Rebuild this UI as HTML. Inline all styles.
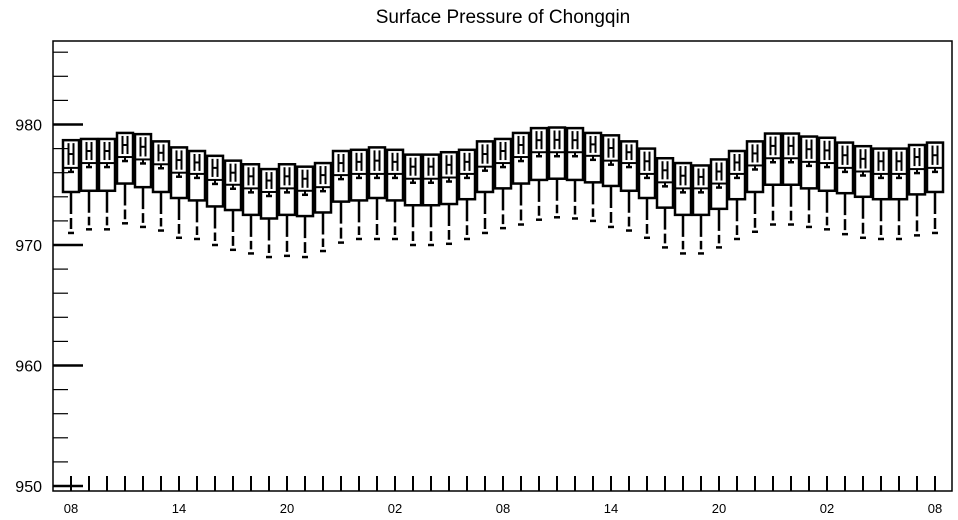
<!DOCTYPE html>
<html><head><meta charset="utf-8"><style>
body{margin:0;background:#fff;}
svg{display:block;font-family:"Liberation Sans",sans-serif;}
</style></head><body>
<svg id="chart" width="958" height="520">
<text x="503" y="23" text-anchor="middle" font-size="19">Surface Pressure of Chongqin</text>
<rect x="53" y="41" width="899" height="450" fill="none" stroke="#000" stroke-width="1.5"/>
<g id="axes"></g>
<g id="boxes"></g>
</svg>
<script>
const q3=[978.7,978.8,978.8,979.3,979.2,978.6,978.1,977.8,977.4,977.0,976.7,976.3,976.7,976.5,976.8,977.8,977.9,978.1,977.9,977.5,977.5,977.7,977.9,978.6,978.8,979.3,979.7,979.75,979.7,979.3,979.1,978.6,978.0,977.2,976.8,976.6,977.1,977.8,978.6,979.25,979.25,979.0,978.9,978.5,978.2,978.0,978.0,978.3,978.5];
const q1=[974.4,974.5,974.5,975.1,974.8,974.4,973.9,973.7,973.2,972.9,972.5,972.2,972.5,972.4,972.7,973.6,973.7,973.9,973.7,973.3,973.3,973.4,973.8,974.4,974.7,975.1,975.4,975.5,975.4,975.2,974.9,974.5,973.9,973.1,972.5,972.5,973.0,973.8,974.4,975.0,975.0,974.7,974.5,974.3,974.0,973.8,973.8,974.2,974.4];
const med=[976.4,976.8,976.8,977.3,977.1,976.7,976.0,975.9,975.4,975.0,974.7,974.4,974.7,974.5,974.8,975.8,975.9,975.9,975.9,975.5,975.5,975.6,975.9,976.5,976.8,977.3,977.7,977.7,977.7,977.4,977.0,976.8,975.9,975.2,974.7,974.7,975.1,975.9,976.6,977.2,977.2,976.9,976.8,976.4,976.1,975.9,975.9,976.3,976.4];
const mins=[971.0,971.3,971.3,971.8,971.5,971.2,970.6,970.5,970.0,969.6,969.3,969.0,969.1,969.0,969.5,970.2,970.5,970.5,970.5,970.0,970.0,970.1,970.5,971.0,971.4,971.7,972.1,972.3,972.2,972.0,971.5,971.2,970.6,969.8,969.3,969.3,969.8,970.5,971.1,971.7,971.7,971.5,971.3,970.9,970.6,970.5,970.5,970.8,971.0];
const yTicks=[950,960,970,980];
const xLabels=["08","14","20","02","08","14","20","02","08"];
const NS="http://www.w3.org/2000/svg";
const y=v=>486-(v-950)*12.05;
const x=i=>71+i*18;
function mk(tag,attrs,parent){const e=document.createElementNS(NS,tag);for(const k in attrs)e.setAttribute(k,attrs[k]);parent.appendChild(e);return e;}
const axes=document.getElementById('axes');
for(let v=950;v<=986;v+=2){
  const major=yTicks.includes(v);
  const t=mk('line',{x1:53,x2:major?83:68,y1:y(v),y2:y(v),stroke:'#000','stroke-width':major?2.5:1.2},axes);
  
  
}
yTicks.forEach(v=>{
  const t=mk('text',{x:42,y:y(v)+6,'text-anchor':'end','font-size':16},axes);
  t.textContent=v;
  
  
});
for(let i=0;i<q3.length;i++){
  const t=mk('line',{x1:x(i),x2:x(i),y1:491,y2:476,stroke:'#000','stroke-width':2},axes);
  
  
}
xLabels.forEach((s,j)=>{
  const t=mk('text',{x:x(j*6),y:513,'text-anchor':'middle','font-size':13},axes);
  t.textContent=s;
  
  
});
const boxes=document.getElementById('boxes');
for(let i=0;i<q3.length;i++){
  const g=mk('g',{stroke:'#000',fill:'none'},boxes);
  
  
  const cx=x(i),yt=y(q3[i]),yb=y(q1[i]),ym=y(med[i]),yn=y(mins[i]);
  mk('rect',{x:cx-8,y:yt,width:16,height:yb-yt,'stroke-width':2.5},g);
  mk('line',{x1:cx-8,x2:cx+8,y1:ym,y2:ym,'stroke-width':2},g);
  // H mark
  const ht=yt+3,hb=ym-3,hm=(ht+hb)/2;
  mk('line',{x1:cx-2.5,x2:cx-2.5,y1:ht,y2:hb,'stroke-width':2},g);
  mk('line',{x1:cx+2.5,x2:cx+2.5,y1:ht,y2:hb,'stroke-width':2},g);
  mk('line',{x1:cx-2.5,x2:cx+2.5,y1:hm,y2:hm,'stroke-width':2},g);
  // mean marker
  mk('line',{x1:cx,x2:cx,y1:ym,y2:ym+4,'stroke-width':2},g);
  mk('line',{x1:cx-3,x2:cx+3,y1:ym+4,y2:ym+4,'stroke-width':2.5},g);
  // lower whisker
  mk('line',{x1:cx,x2:cx,y1:yb,y2:yn-4,'stroke-width':2.5,'stroke-dasharray':'22,4'},g);
  mk('line',{x1:cx-3,x2:cx+3,y1:yn,y2:yn,'stroke-width':2.5},g);
}
</script>
</body></html>
